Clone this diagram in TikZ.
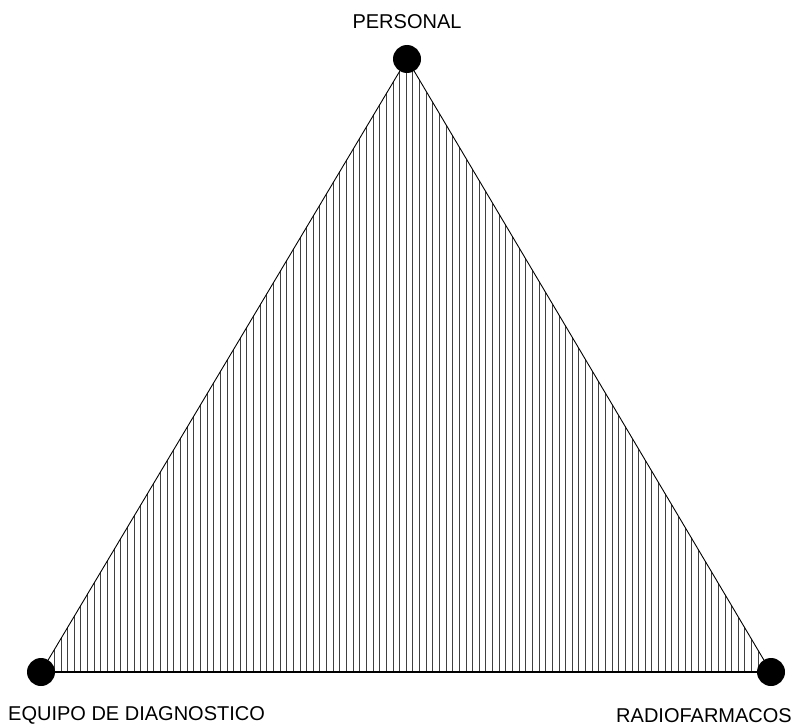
\documentclass[tikz,border=0pt]{standalone}
\usepackage{fontspec}
\setmainfont{Liberation Sans}
\usetikzlibrary{positioning}

\begin{document}
\begin{tikzpicture}[x=1pt, y=-1pt,
  vertex/.style={circle, fill=black, inner sep=0pt, minimum size=28pt},
  lbl/.style={font=\fontsize{20}{24}\selectfont, inner sep=0pt},
  side/.style={line width=0.9pt},
  hatch/.style={line width=0.8pt, black!75}
]
  \useasboundingbox (0,0) rectangle (795,725);

  % Corners
  \coordinate (top)   at (407,59);
  \coordinate (left)  at (41,672);
  \coordinate (right) at (771,672);

  % Hatching
  \begin{scope}
    \clip (top) -- (left) -- (right) -- cycle;
    \foreach \i in {0,...,110}
      \draw[hatch] ({41+\i*6.64},672) -- ++(0,-620);
  \end{scope}

  % Triangle
  \draw[side] (top) -- (left) -- (right) -- cycle;
  \draw[line width=1.4pt] (left) -- (right);

  % Vertices
  \node[vertex] (pers)  at (top)   {};
  \node[vertex] (equip) at (left)  {};
  \node[vertex] (radio) at (right) {};

  % Labels
  \node[lbl, anchor=base]      (perslbl)  at (407,29)  {PERSONAL};
  \node[lbl, anchor=base west] (equiplbl) at (8,720.5) {EQUIPO DE DIAGNOSTICO};
  \node[lbl, anchor=base east] (radiolbl) at (792,722) {RADIOFARMACOS};
\end{tikzpicture}
\end{document}
